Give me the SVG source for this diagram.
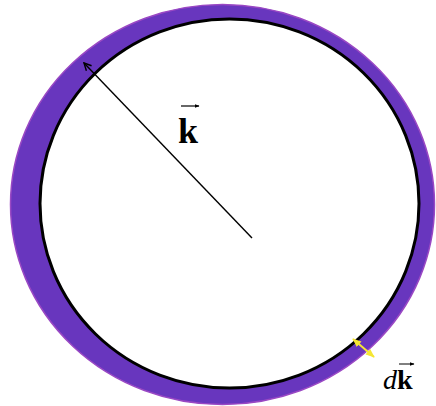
<svg xmlns="http://www.w3.org/2000/svg" width="436" height="406" viewBox="0 0 436 406">
<style>
.lbl{font-family:"Liberation Serif","Times New Roman",serif;fill:#000}
</style>
<defs>
<marker id="ah" viewBox="0 0 10 10" refX="9" refY="5" markerWidth="9" markerHeight="9" orient="auto" markerUnits="userSpaceOnUse">
<path d="M1,1 L9,5 L1,9" fill="none" stroke="#000" stroke-width="1.6"/>
</marker>
<marker id="ay" viewBox="0 0 10 10" refX="9" refY="5" markerWidth="9" markerHeight="9" orient="auto-start-reverse" markerUnits="userSpaceOnUse">
<path d="M0,1 L10,5 L0,9 Z" fill="#f5e634"/>
</marker>
<marker id="tv" viewBox="0 0 10 10" refX="9" refY="5" markerWidth="5" markerHeight="5" orient="auto" markerUnits="userSpaceOnUse">
<path d="M0,1 L10,5 L0,9 Z" fill="#000"/>
</marker>
</defs>
<g id="shell">
<ellipse cx="222.5" cy="204.5" rx="212" ry="200" fill="#6836be" stroke="#9a48c4" stroke-width="1.5"/>
</g>
<g id="sphere">
<ellipse cx="229.5" cy="203.5" rx="189.5" ry="184.5" fill="#fff" stroke="#000" stroke-width="3"/>
</g>
<g id="connectors">
<line x1="252" y1="238" x2="84" y2="63" stroke="#000" stroke-width="1.4" marker-end="url(#ah)"/>
<line x1="353" y1="339" x2="374" y2="357" stroke="#f5e634" stroke-width="2" marker-start="url(#ay)" marker-end="url(#ay)"/>
</g>
<g id="label-k">
<text class="lbl" x="178" y="143" font-size="36" font-weight="bold">k</text>
<line x1="181" y1="106" x2="199" y2="106" stroke="#000" stroke-width="1.2" marker-end="url(#tv)"/>
</g>
<g id="label-dk">
<text class="lbl" x="383" y="389" font-size="28"><tspan font-style="italic">d</tspan><tspan font-weight="bold">k</tspan></text>
<line x1="399" y1="364" x2="414" y2="364" stroke="#000" stroke-width="1" marker-end="url(#tv)"/>
</g>
</svg>
